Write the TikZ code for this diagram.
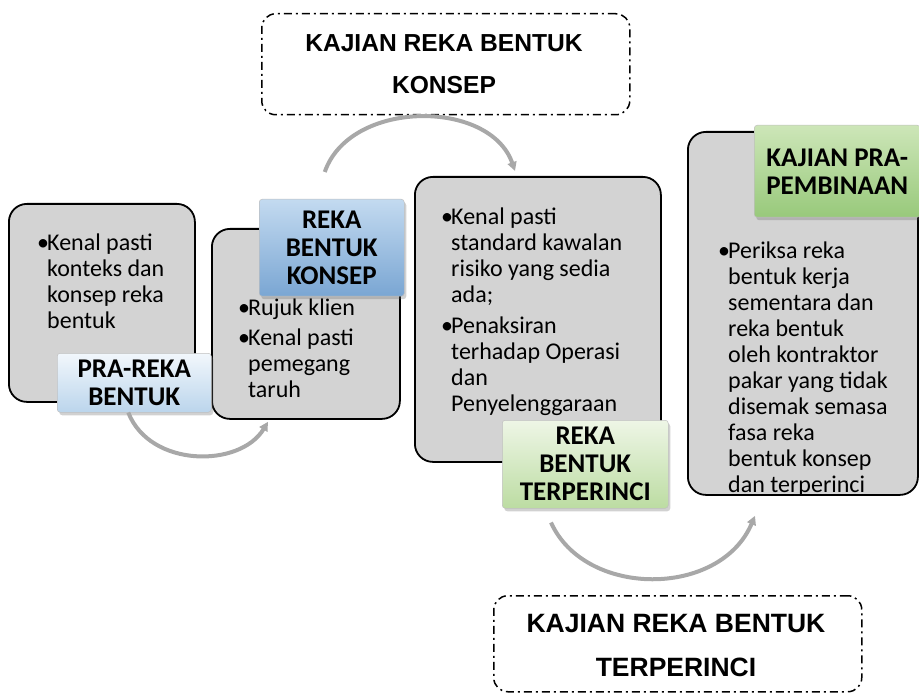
\documentclass[tikz,border=0pt]{standalone}
\usepackage{fontspec}
\setmainfont{Carlito}
\newfontfamily\headfont{Liberation Sans}
\usetikzlibrary{shadows,arrows.meta}

\definecolor{boxgray}{HTML}{D3D3D3}
\definecolor{flowgray}{HTML}{A8A8A8}
\definecolor{paleblueA}{HTML}{F2F7FC}
\definecolor{paleblueB}{HTML}{BBD5EC}
\definecolor{blueA}{HTML}{C3DAF0}
\definecolor{blueB}{HTML}{7AA6D3}
\definecolor{palegreenA}{HTML}{EEF6E6}
\definecolor{palegreenB}{HTML}{BCDCA2}
\definecolor{greenA}{HTML}{CDE6B8}
\definecolor{greenB}{HTML}{98C97B}

\newcommand\bu{\makebox[10pt][l]{•}}
\newcommand\hg{\hspace*{10pt}}

\tikzset{
  panel/.style={draw=black, line width=1.8pt, fill=boxgray, rounded corners=18pt,
    anchor=north west, inner sep=0pt},
  stage/.style={anchor=north west, rounded corners=3pt, inner sep=0pt, align=center,
    font=\fontsize{27pt}{28pt}\selectfont\bfseries,
    draw=white!75!black, line width=0.5pt,
    drop shadow={shadow xshift=2pt, shadow yshift=-3pt, opacity=0.3, fill=black!60}},
  bodytext/.style={anchor=north west, inner sep=0pt, align=left,
    font=\fontsize{24pt}{26pt}\selectfont},
  review/.style={draw=black, line width=1.5pt, rounded corners=14pt,
    dash pattern=on 8pt off 4pt on 2pt off 4pt, anchor=north west, inner sep=0pt},
  headtext/.style={align=center, inner sep=0pt, font=\headfont\bfseries},
  flow/.style={draw=flowgray, line width=4pt, -{Triangle[length=9pt,width=9pt]}}
}

\begin{document}
\begin{tikzpicture}[x=1pt,y=-1pt]
\useasboundingbox (0,0) rectangle (919,695);

% review boxes
\node[review, minimum width=368pt, minimum height=101pt] (rk) at (261,13) {};
\node[headtext, font=\fontsize{24.6pt}{42pt}\selectfont\headfont\bfseries] (rkt) at (444,64)
  {KAJIAN REKA BENTUK\\KONSEP};
\node[review, minimum width=368pt, minimum height=96pt] (rt) at (493,595) {};
\node[headtext, font=\fontsize{26.5pt}{44pt}\selectfont\headfont\bfseries] (rtt) at (676,646)
  {KAJIAN REKA BENTUK\\TERPERINCI};

% content panels
\node[panel, minimum width=186pt, minimum height=198pt] (b1) at (8,203) {};
\node[panel, minimum width=188pt, minimum height=190pt] (b2) at (211,228) {};
\node[panel, minimum width=246pt, minimum height=285pt] (b3) at (414,176) {};
\node[panel, minimum width=230pt, minimum height=363pt] (b4) at (687,131) {};

\node[bodytext] (t1) at (37,232)
  {\strut\bu Kenal pasti\\ \hg konteks dan\\ \hg konsep reka\\ \hg bentuk};
\node[bodytext] (t2) at (238,297)
  {\strut\bu Rujuk klien\\[4pt] \bu Kenal pasti\\ \hg pemegang\\ \hg taruh};
\node[bodytext] (t3) at (441,206)
  {\strut\bu Kenal pasti\\ \hg standard kawalan\\ \hg risiko yang sedia\\ \hg ada;\\[5pt]
   \bu Penaksiran\\ \hg terhadap Operasi\\ \hg dan\\ \hg Penyelenggaraan};
\node[bodytext] (t4) at (718,240)
  {\strut\bu Periksa reka\\ \hg bentuk kerja\\ \hg sementara dan\\ \hg reka bentuk\\
   \hg oleh kontraktor\\ \hg pakar yang tidak\\ \hg disemak semasa\\ \hg fasa reka\\
   \hg bentuk konsep\\ \hg dan terperinci};

% stage labels
\node[stage, top color=paleblueA, bottom color=paleblueB,
  minimum width=154pt, minimum height=59pt] (l1) at (57,353) {PRA-REKA\\BENTUK};
\node[stage, top color=blueA, bottom color=blueB,
  minimum width=145pt, minimum height=97pt] (l2) at (259,199) {REKA\\BENTUK\\KONSEP};
\node[stage, top color=palegreenA, bottom color=palegreenB,
  minimum width=166pt, minimum height=88pt] (l3) at (502,420) {REKA\\BENTUK\\TERPERINCI};
\node[stage, top color=greenA, bottom color=greenB,
  minimum width=166pt, minimum height=92pt] (l4) at (754,125) {KAJIAN PRA-\\PEMBINAAN};

% flow arrows
\draw[flow] ([xshift=-6pt]l1.south) .. controls (150,468) and (240,468)
  .. ([xshift=57pt,yshift=-2pt]b2.south west);
\draw[flow] ([xshift=-7pt,yshift=27pt]l2.north) .. controls (350,99) and (490,99)
  .. ([xshift=101pt,yshift=5pt]b3.north west);
\draw[flow] ([xshift=49pt,yshift=-14pt]l3.south west) .. controls (585,598) and (720,598)
  .. ([xshift=68pt,yshift=-20pt]b4.south west);
\end{tikzpicture}
\end{document}
